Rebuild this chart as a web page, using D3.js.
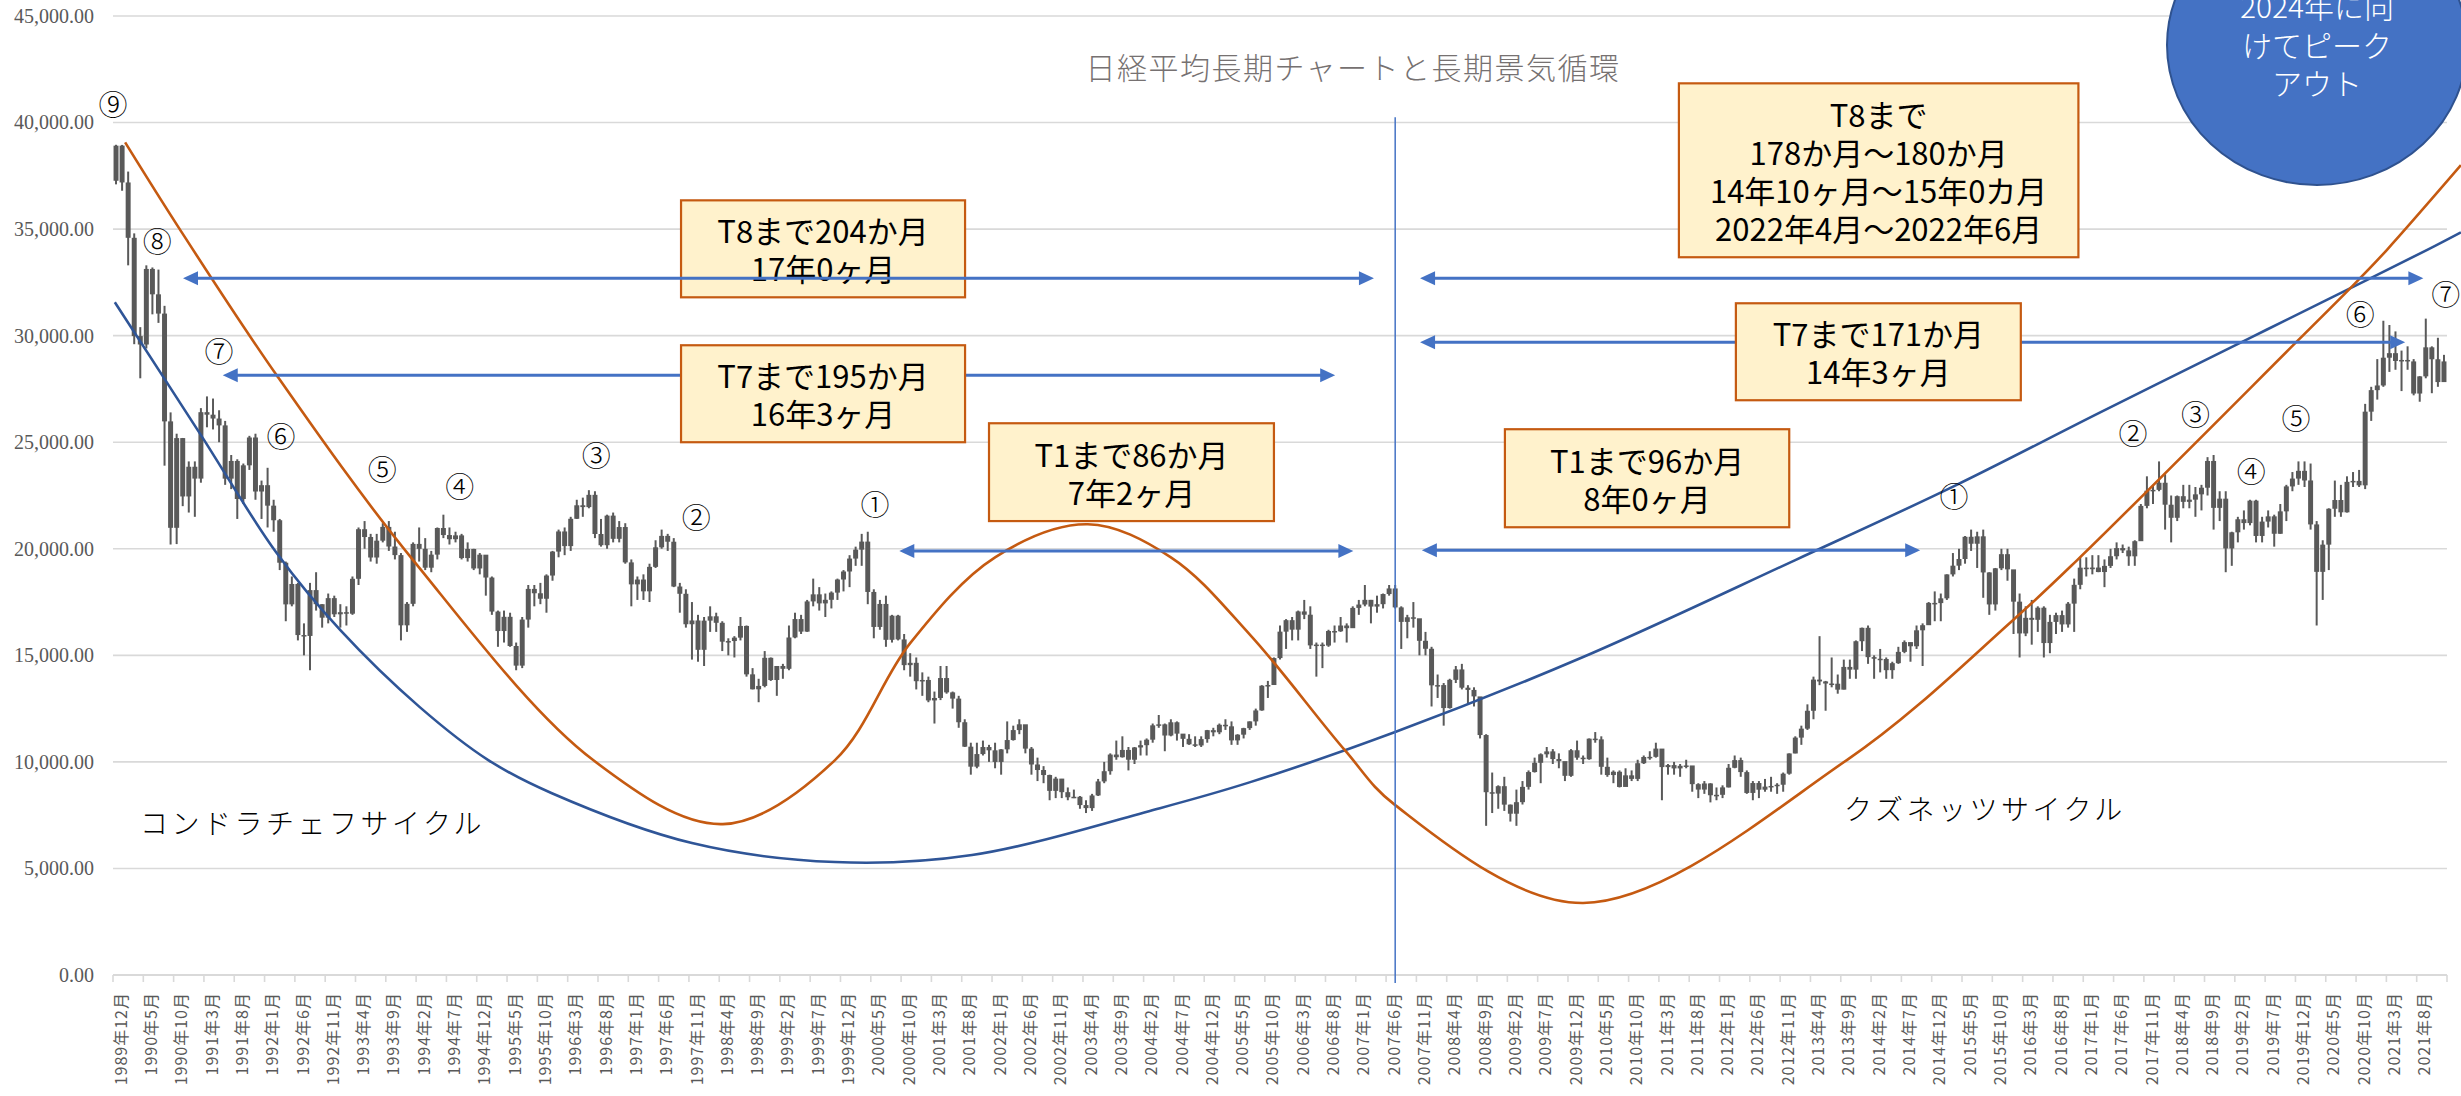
<!DOCTYPE html>
<html><head><meta charset="utf-8">
<script src="https://cdn.jsdelivr.net/npm/d3@7"></script>
<style>html,body{margin:0;padding:0;background:#fff}svg{display:block}</style>
</head><body>
<script>
// ---------------- DATA ----------------
const startYear = 1989, startMonth = 12, monthCount = 385;
const categories = [];
for (let k = 0; k < monthCount; k++) {
  const t = startYear * 12 + (startMonth - 1) + k;
  categories.push(Math.floor(t / 12) + "年" + (t % 12 + 1) + "月");
}
const tickLabels = ["1989年12月","1990年5月","1990年10月","1991年3月","1991年8月","1992年1月","1992年6月","1992年11月","1993年4月","1993年9月","1994年2月","1994年7月","1994年12月","1995年5月","1995年10月","1996年3月","1996年8月","1997年1月","1997年6月","1997年11月","1998年4月","1998年9月","1999年2月","1999年7月","1999年12月","2000年5月","2000年10月","2001年3月","2001年8月","2002年1月","2002年6月","2002年11月","2003年4月","2003年9月","2004年2月","2004年7月","2004年12月","2005年5月","2005年10月","2006年3月","2006年8月","2007年1月","2007年6月","2007年11月","2008年4月","2008年9月","2009年2月","2009年7月","2009年12月","2010年5月","2010年10月","2011年3月","2011年8月","2012年1月","2012年6月","2012年11月","2013年4月","2013年9月","2014年2月","2014年7月","2014年12月","2015年5月","2015年10月","2016年3月","2016年8月","2017年1月","2017年6月","2017年11月","2018年4月","2018年9月","2019年2月","2019年7月","2019年12月","2020年5月","2020年10月","2021年3月","2021年8月"];
const yTicks = [0,5000,10000,15000,20000,25000,30000,35000,40000,45000];

const opens = [37269,
38916,37189,34592,29980,29585,33131,31940,31036,25978,20984,25194,22455,
23849,23293,26409,26292,26111,25790,23291,24121,22336,23916,25222,22687,
22984,22023,21339,19346,17391,18348,15952,15910,18061,17399,16767,17684,
16925,17024,16953,18591,20919,20552,19590,20380,21027,20106,19703,16408,
17417,20229,19997,19112,19725,20974,20644,20449,20629,19564,19990,19076,
19723,18650,17054,16140,16807,15437,14517,16678,18117,17913,17655,18744,
19868,20813,20125,21407,22041,21956,22531,20693,20167,21556,20467,21020,
19361,18330,18557,18003,19151,20069,20605,20331,18229,17888,16459,16636,
15259,16628,16831,16527,15641,15671,15830,16379,14108,13406,13564,14884,
13842,14500,14368,15837,16702,16112,17530,17862,17437,17606,17943,18558,
18934,19540,19960,20337,17974,16332,17411,15728,16861,15747,14540,14649,
13786,13844,12884,12999,13934,13262,12969,11861,10714,9775,10367,10697,
10543,9998,10588,11025,11493,11764,10622,9878,9619,9383,8640,9216,
8579,8340,8363,7973,7831,8425,9083,9563,10344,10219,10560,10101,
10677,10784,11042,11715,11762,11237,11859,11326,11082,10824,10771,11069,
11489,11388,11741,11669,11009,11277,11584,11900,12414,13574,13607,14872,
16111,16650,16205,17060,16906,15467,15505,15457,16141,16128,16399,16274,
17226,17383,17604,17288,17400,17876,18138,17249,16569,16786,16738,15681,
15308,13592,13604,12526,13850,14339,13481,13377,13073,11260,8577,8512,
8860,7994,7568,8110,8828,9523,9958,10357,10493,10133,10035,9346,
10546,10198,10126,11090,11057,9769,9383,9537,8824,9369,9202,9937,
10229,10237,10624,9755,9850,9694,9816,9833,8955,8700,8988,8435,
8455,8803,9723,10084,9521,8543,9007,8695,8840,8870,8928,9446,
10395,11139,11559,12398,13861,13775,13677,13668,13389,14456,14328,15662,
16291,14915,14841,14828,14304,14632,15162,15621,15425,16174,16414,17460,
17451,17674,18798,19207,19520,20563,20236,20585,18890,17388,19083,19747,
19034,17518,16027,16759,16666,17235,15576,16569,16887,16450,17425,18308,
19114,19041,19119,18909,19197,19651,20033,19925,19646,20356,22012,22725,
22765,23098,22068,21454,22468,22202,22305,22554,22865,24120,21920,22351,
20015,20773,21385,21206,22259,20601,21276,21522,20704,21756,22927,23294,
23657,23205,21143,18917,20194,21878,22288,21710,23140,23185,22977,26434,
27444,27663,28966,29179,28813,28860,28792,27284,28090,29453,28893,27822];

const highs = [38957,
38951,37700,34800,30400,33300,33200,33100,31400,26400,25400,25200,24100,
24100,26600,27150,27050,26500,26000,24400,24200,24000,25300,25400,23200,
23800,22300,21400,19400,18700,18400,16500,18400,18900,17400,17900,17800,
17400,17300,18700,21000,21300,20700,20700,21200,21300,20800,19800,17500,
20300,21000,20500,19900,21000,21600,21000,20800,20700,20300,20000,19800,
19700,18700,17100,17100,17000,15600,16800,18300,18300,18400,18800,19900,
20900,21000,21500,22300,22400,22750,22700,21400,21600,21700,21300,21200,
19500,18700,18800,19300,20400,20900,20700,20500,18400,18100,17500,16900,
16800,17300,17000,16600,15800,15900,16800,16400,14400,13900,15200,14900,
14500,14600,16400,17000,16900,17600,18600,18200,17900,18000,18600,19000,
19700,20100,20700,20800,18100,17600,17800,16900,16900,16000,15100,14900,
14200,14000,13300,14500,14500,13300,13100,12000,10900,10900,11000,10800,
10900,10600,11900,11700,12000,11700,10700,10200,9800,9400,9300,9200,
8800,8700,8400,8200,8500,9200,10000,10400,11000,11200,10700,10700,
11000,11100,11800,12200,11800,12000,11900,11300,11300,11200,11200,11500,
11600,11800,12000,11900,11300,11600,11900,12500,13600,13800,14900,16400,
16700,16800,17100,17600,17300,15600,15600,16200,16400,16800,16500,17300,
17600,18300,17600,17800,17900,18300,18300,17300,16900,17500,16700,16100,
15400,14100,13700,13900,14500,14600,13600,13500,12800,11300,9500,8900,
9300,8000,8700,9100,9600,10200,10400,10700,10600,10400,10000,10600,
11000,10300,11100,11400,11200,10200,9600,9600,9700,9600,10100,10300,
10500,10900,10600,9900,10000,9900,10100,9800,9000,9100,9000,8800,
8900,9900,10300,10200,9600,9100,9100,9200,9300,9000,9500,10400,
11200,11700,12700,14000,15900,13800,14900,14100,14800,14800,15700,16300,
16400,15000,15300,14900,14700,15400,15700,15600,16400,16500,17500,18000,
17900,18800,19800,20000,20600,20900,20800,20900,18900,19100,20000,20000,
18900,17900,17300,17600,17300,17300,16900,17000,17100,17500,18600,19600,
19600,19700,19700,19500,20000,20300,20200,20100,20400,22100,23400,23000,
24100,23500,22500,22500,23000,23000,22900,23000,24300,24400,22700,22700,
20800,21500,21800,22300,22300,21500,21800,21600,22100,23000,23600,24100,
24100,24000,21300,20400,21900,23200,23000,23400,23600,23700,26800,27600,
28900,30700,30500,30200,29300,29500,28900,28100,30800,29500,29900,29100];

const lows = [37100,
36800,33300,29600,28000,29400,31000,30600,23900,20200,20220,22000,21700,
21500,23100,25700,25600,25000,23000,22800,21400,22100,23700,22300,21400,
21000,20800,19000,16600,17300,15700,15000,14300,17100,16300,16500,16800,
16300,16400,16900,18300,20000,19400,19300,20300,19900,19500,15700,16100,
17300,19400,19000,18900,19500,20500,20200,20300,19500,19400,19000,18800,
17800,16900,15400,15600,15400,14300,14400,16300,17300,17400,17000,18500,
19600,19700,19900,21400,21500,21900,20500,20100,20000,20300,20300,19300,
17300,17600,17600,17500,19100,20000,19900,18200,17000,16300,14800,14700,
14500,16100,16100,15200,15000,14900,15700,14000,13400,12800,13500,13800,
13100,13900,14300,15800,16000,16100,17300,17100,16800,17200,17600,18000,
18200,19200,19200,17400,15800,16200,15400,15600,15700,14300,14000,13400,
13100,12800,11800,12900,13200,12500,11600,10700,9400,9700,10300,10000,
9700,9400,10400,11000,11300,10400,9400,9100,9000,8200,8300,8300,
8200,8300,7800,7600,7700,8400,9000,9400,10100,10200,9600,9900,
10300,10300,10900,11600,10500,11200,11000,10700,10800,10700,10700,10900,
11200,11300,11500,10800,10800,11100,11500,11700,12400,13000,13700,14800,
15300,15700,15700,16700,15300,14000,14400,15400,15600,16100,15600,16300,
16900,17300,16500,17000,17200,17800,17200,15300,15800,16300,15000,15000,
12600,13000,11700,12500,13700,13400,12700,12600,11100,7000,7600,7800,
7700,7200,7000,8000,8700,9500,9000,10200,9900,9700,9100,9300,
10100,9900,10100,10900,9400,9300,9000,8800,9000,9100,9100,9900,
10100,10200,8200,9400,9400,9300,9700,8600,8300,8500,8100,8200,
8300,8800,9700,9300,8500,8200,8300,8600,8600,8500,8600,9400,
10400,10800,11500,12000,13600,12400,13500,13200,13400,13900,13900,15200,
14600,13900,14200,13900,13900,14600,15100,14700,15300,14500,16700,16600,
16600,17600,18700,19000,19300,19900,19100,17700,16900,17100,19000,18500,
16000,14900,15900,15500,16100,14900,15100,16000,16100,16300,16100,18100,
18700,18800,18900,18200,19100,19500,19800,19200,19200,20400,21900,22100,
22700,20900,20300,21300,21900,21900,21500,21800,22500,20900,21300,18900,
19200,20300,20900,21100,20300,20300,21000,20100,20700,21300,22700,23000,
22900,20900,16400,17600,19000,21500,21500,21700,22900,22900,22800,26000,
27000,27600,28300,28400,27400,28400,27200,26900,28000,27300,27600,27900];

const closes = [38916,
37189,34592,29980,29585,33131,31940,31036,25978,20984,25194,22455,23849,
23293,26409,26292,26111,25790,23291,24121,22336,23916,25222,22687,22984,
22023,21339,19346,17391,18348,15952,15910,18061,17399,16767,17684,16925,
17024,16953,18591,20919,20552,19590,20380,21027,20106,19703,16408,17417,
20229,19997,19112,19725,20974,20644,20449,20629,19564,19990,19076,19723,
18650,17054,16140,16807,15437,14517,16678,18117,17913,17655,18744,19868,
20813,20125,21407,22041,21956,22531,20693,20167,21556,20467,21020,19361,
18330,18557,18003,19151,20069,20605,20331,18229,17888,16459,16636,15259,
16628,16831,16527,15641,15671,15830,16379,14108,13406,13564,14884,13842,
14500,14368,15837,16702,16112,17530,17862,17437,17606,17943,18558,18934,
19540,19960,20337,17974,16332,17411,15728,16861,15747,14540,14649,13786,
13844,12884,12999,13934,13262,12969,11861,10714,9775,10367,10697,10543,
9998,10588,11025,11493,11764,10622,9878,9619,9383,8640,9216,8579,
8340,8363,7973,7831,8425,9083,9563,10344,10219,10560,10101,10677,
10784,11042,11715,11762,11237,11859,11326,11082,10824,10771,11069,11489,
11388,11741,11669,11009,11277,11584,11900,12414,13574,13607,14872,16111,
16650,16205,17060,16906,15467,15505,15457,16141,16128,16399,16274,17226,
17383,17604,17288,17400,17876,18138,17249,16569,16786,16738,15681,15308,
13592,13604,12526,13850,14339,13481,13377,13073,11260,8577,8512,8860,
7994,7568,8110,8828,9523,9958,10357,10493,10133,10035,9346,10546,
10198,10126,11090,11057,9769,9383,9537,8824,9369,9202,9937,10229,
10237,10624,9755,9850,9694,9816,9833,8955,8700,8988,8435,8455,
8803,9723,10084,9521,8543,9007,8695,8840,8870,8928,9446,10395,
11139,11559,12398,13861,13775,13677,13668,13389,14456,14328,15662,16291,
14915,14841,14828,14304,14632,15162,15621,15425,16174,16414,17460,17451,
17674,18798,19207,19520,20563,20236,20585,18890,17388,19083,19747,19034,
17518,16027,16759,16666,17235,15576,16569,16887,16450,17425,18308,19114,
19041,19119,18909,19197,19651,20033,19925,19646,20356,22012,22725,22765,
23098,22068,21454,22468,22202,22305,22554,22865,24120,21920,22351,20015,
20773,21385,21206,22259,20601,21276,21522,20704,21756,22927,23294,23657,
23205,21143,18917,20194,21878,22288,21710,23140,23185,22977,26434,27444,
27663,28966,29179,28813,28860,28792,27284,28090,29453,28893,27822,28792];

// Long-wave curves (month index, value)
const kondratievIdx = [-0.2, 13.9, 26.5, 37, 50.1, 61.4, 71.8, 95, 118.6, 141.2, 172.2, 187.1, 211, 242, 277, 303.2, 327.3, 352.2, 371.5, 381.4, 386.8];
const kondratievVal = [31570, 25380, 19800, 16180, 12570, 10085, 8540, 6190, 5300, 5630, 7830, 9050, 11400, 14920, 19470, 22940, 26400, 29920, 32640, 34050, 34850];
const kuznetsIdx = [1.5, 10.5, 26.5, 49, 78.7, 100.1, 118.6, 131, 145, 160.3, 174, 187.1, 202.7, 211, 242, 285.5, 312.9, 323.5, 360, 369.9, 374.6, 386.8];
const kuznetsVal = [39070, 35000, 28140, 19470, 10085, 7080, 10085, 15570, 19600, 21150, 19600, 15950, 10550, 7970, 3380, 10085, 16650, 19470, 29800, 32620, 34030, 38000];

// Wave number labels
const waveText = ["⑨","⑧","⑦","⑥","⑤","④","③","②","①","①","②","③","④","⑤","⑥","⑦"];
const waveIdx  = [-0.5, 6.8, 17.0, 27.2, 43.9, 56.7, 79.2, 95.7, 125.2, 303.2, 332.7, 343.0, 352.2, 359.6, 370.2, 384.3];
const waveVal  = [40900, 34470, 29320, 25330, 23780, 22980, 24440, 21530, 22140, 22510, 25470, 26360, 23690, 26170, 31050, 31990];

// ---------------- LAYOUT ----------------
const W = 2461, H = 1096;
const plot = {left: 113, right: 2447, top: 16, bottom: 975};
const FONT_JP = "'Noto Sans CJK JP','Noto Sans',sans-serif";
const GRAY = "#595959";

const svg = d3.select("body").append("svg").attr("width", W).attr("height", H)
  .style("background", "#fff").style("overflow", "hidden");

const x = d3.scaleBand().domain(categories).range([plot.left, plot.right]).padding(0);
const xi = d3.scaleLinear().domain([-0.5, categories.length - 0.5]).range([plot.left, plot.right]);
const y = d3.scaleLinear().domain([0, 45000]).range([plot.bottom, plot.top]);
const step = x.step();

// gridlines
svg.append("g").selectAll("line").data(yTicks.filter(d => d > 0)).join("line")
  .attr("x1", plot.left).attr("x2", plot.right)
  .attr("y1", d => y(d)).attr("y2", d => y(d))
  .attr("stroke", "#d9d9d9").attr("stroke-width", 1.6);

// y axis labels
const yAxis = svg.append("g").attr("transform", `translate(${plot.left},0)`)
  .call(d3.axisLeft(y).tickValues(yTicks).tickSize(0).tickPadding(19).tickFormat(d3.format(",.2f")));
yAxis.select(".domain").remove();
yAxis.selectAll("text").attr("font-family", "'Liberation Serif','DejaVu Serif',serif")
  .attr("font-size", 20).attr("fill", GRAY);

// x axis line + ticks
svg.append("line").attr("x1", plot.left).attr("x2", plot.right)
  .attr("y1", plot.bottom).attr("y2", plot.bottom).attr("stroke", "#d9d9d9").attr("stroke-width", 2);
const tickBounds = d3.range(0, categories.length + 1, 5);
svg.append("g").selectAll("line").data(tickBounds).join("line")
  .attr("x1", d => xi(d - 0.5)).attr("x2", d => xi(d - 0.5))
  .attr("y1", plot.bottom).attr("y2", plot.bottom + 7)
  .attr("stroke", "#d9d9d9").attr("stroke-width", 1.6);

const xAxis = svg.append("g").attr("transform", `translate(0,${plot.bottom})`)
  .call(d3.axisBottom(x).tickValues(tickLabels).tickSize(0));
xAxis.select(".domain").remove();
xAxis.selectAll("text")
  .attr("transform", "rotate(-90)")
  .attr("text-anchor", "end")
  .attr("x", -17).attr("y", 5).attr("dy", "0.35em")
  .attr("font-family", FONT_JP).attr("font-size", 16).attr("letter-spacing", 1)
  .attr("fill", GRAY);

// candles
const idx = d3.range(categories.length);
const candles = svg.append("g");
candles.selectAll("line").data(idx).join("line")
  .attr("x1", i => x(categories[i]) + step / 2).attr("x2", i => x(categories[i]) + step / 2)
  .attr("y1", i => y(highs[i])).attr("y2", i => y(lows[i]))
  .attr("stroke", GRAY).attr("stroke-width", 2);
const bodyW = step * 0.82;
candles.selectAll("rect").data(idx).join("rect")
  .attr("x", i => x(categories[i]) + (step - bodyW) / 2)
  .attr("width", bodyW)
  .attr("y", i => y(Math.max(opens[i], closes[i])))
  .attr("height", i => Math.max(1.5, Math.abs(y(opens[i]) - y(closes[i]))))
  .attr("fill", GRAY);

// long-wave curves
const curveLine = d3.line().x(d => xi(d[0])).y(d => y(d[1])).curve(d3.curveCatmullRom.alpha(0.5));
svg.append("path").attr("d", curveLine(kondratievIdx.map((v, k) => [v, kondratievVal[k]])))
  .attr("fill", "none").attr("stroke", "#2f5597").attr("stroke-width", 2.6);
svg.append("path").attr("d", curveLine(kuznetsIdx.map((v, k) => [v, kuznetsVal[k]])))
  .attr("fill", "none").attr("stroke", "#c55a11").attr("stroke-width", 2.6);

// vertical marker (2007年7月)
const peakIdx = categories.indexOf("2007年7月");
svg.append("line").attr("x1", xi(peakIdx)).attr("x2", xi(peakIdx))
  .attr("y1", y(40250)).attr("y2", plot.bottom + 8)
  .attr("stroke", "#4472c4").attr("stroke-width", 1.5);

// title
svg.append("text").attr("x", 1353).attr("y", 66).attr("text-anchor", "middle")
  .attr("dominant-baseline", "central")
  .attr("font-family", FONT_JP).attr("font-size", 30).attr("font-weight", 300)
  .attr("letter-spacing", 1.5).attr("fill", "#767171")
  .text("日経平均長期チャートと長期景気循環");

// cycle names
svg.append("text").attr("x", xi(3.95)).attr("y", y(7176)).attr("dominant-baseline", "central")
  .attr("font-family", FONT_JP).attr("font-size", 28).attr("font-weight", 300)
  .attr("letter-spacing", 3.5).attr("fill", "#000").text("コンドラチェフサイクル");
svg.append("text").attr("x", xi(285.05)).attr("y", y(7833)).attr("dominant-baseline", "central")
  .attr("font-family", FONT_JP).attr("font-size", 28).attr("font-weight", 300)
  .attr("letter-spacing", 3.5).attr("fill", "#000").text("クズネッツサイクル");

// wave labels
svg.append("g").selectAll("text").data(waveText).join("text")
  .attr("x", (d, k) => xi(waveIdx[k])).attr("y", (d, k) => y(waveVal[k]))
  .attr("text-anchor", "middle").attr("dominant-baseline", "central")
  .attr("font-family", FONT_JP).attr("font-size", 29).attr("font-weight", 300).attr("fill", "#000")
  .text(d => d);

// arrows
const arrows = [
  {from: 17.6, to: 201.1, v: 28140, top: false},
  {from: 129.2, to: 204.1, v: 19890, top: false},
  {from: 215.1, to: 380.6, v: 32700, top: false},
  {from: 215.1, to: 377.6, v: 29690, top: false},
  {from: 215.4, to: 297.6, v: 19930, top: false},
  {from: 11.05, to: 207.5, v: 32700, top: true}
];
function drawArrow(g, a) {
  const x1 = xi(a.from), x2 = xi(a.to), yy = y(a.v), L = 15, hw = 7;
  g.append("line").attr("x1", x1 + L - 2).attr("x2", x2 - L + 2).attr("y1", yy).attr("y2", yy)
    .attr("stroke", "#4472c4").attr("stroke-width", 3);
  g.append("path").attr("d", `M${x1},${yy}L${x1 + L},${yy - hw}L${x1 + L},${yy + hw}Z`).attr("fill", "#4472c4");
  g.append("path").attr("d", `M${x2},${yy}L${x2 - L},${yy - hw}L${x2 - L},${yy + hw}Z`).attr("fill", "#4472c4");
}
const arrowG = svg.append("g");
arrows.filter(a => !a.top).forEach(a => drawArrow(arrowG, a));

// annotation boxes
const boxes = [
  {i0: 93.2, i1: 140.05, vTop: 36350, vBot: 31800, lines: ["T8まで204か月", "17年0ヶ月"]},
  {i0: 93.2, i1: 140.05, vTop: 29550, vBot: 25000, lines: ["T7まで195か月", "16年3ヶ月"]},
  {i0: 144.0, i1: 191.0, vTop: 25890, vBot: 21300, lines: ["T1まで86か月", "7年2ヶ月"]},
  {i0: 257.8, i1: 323.7, vTop: 41840, vBot: 33680, lines: ["T8まで", "178か月～180か月", "14年10ヶ月～15年0カ月", "2022年4月～2022年6月"]},
  {i0: 267.2, i1: 314.2, vTop: 31520, vBot: 26970, lines: ["T7まで171か月", "14年3ヶ月"]},
  {i0: 229.1, i1: 276.0, vTop: 25610, vBot: 21010, lines: ["T1まで96か月", "8年0ヶ月"]}
];
const boxG = svg.append("g");
boxes.forEach(b => {
  const bx = xi(b.i0), bw = xi(b.i1) - xi(b.i0), by = y(b.vTop), bh = y(b.vBot) - y(b.vTop);
  boxG.append("rect").attr("x", bx).attr("y", by).attr("width", bw).attr("height", bh)
    .attr("fill", "#fff2cc").attr("stroke", "#c55a11").attr("stroke-width", 2.2);
  const lh = 38, cy = by + bh / 2, n = b.lines.length;
  b.lines.forEach((t, k) => {
    boxG.append("text").attr("x", bx + bw / 2).attr("y", cy + (k - (n - 1) / 2) * lh)
      .attr("text-anchor", "middle").attr("dominant-baseline", "central")
      .attr("font-family", FONT_JP).attr("font-size", 31).attr("fill", "#000").text(t);
  });
});
arrows.filter(a => a.top).forEach(a => drawArrow(svg.append("g"), a));

// blue circle note
const cxc = 2317, cyc = 45;
svg.append("ellipse").attr("cx", cxc).attr("cy", cyc).attr("rx", 150).attr("ry", 140)
  .attr("fill", "#4472c4").attr("stroke", "#2f528f").attr("stroke-width", 2);
["2024年に向", "けてピーク", "アウト"].forEach((t, k) => {
  svg.append("text").attr("x", cxc).attr("y", cyc - 40 + k * 38.5)
    .attr("text-anchor", "middle").attr("dominant-baseline", "central")
    .attr("font-family", FONT_JP).attr("font-size", 30).attr("font-weight", 300)
    .attr("fill", "#fff").text(t);
});
</script>
</body></html>
